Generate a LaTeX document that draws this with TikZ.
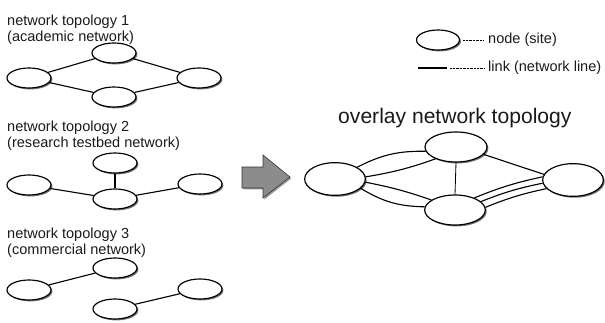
\documentclass[tikz,border=0pt]{standalone}
\usepackage{fontspec}
\setmainfont{Liberation Sans}
\usetikzlibrary{shapes.geometric,shadows}
\definecolor{txt}{HTML}{1A1A1A}
\definecolor{arrowfill}{HTML}{8C8C8C}
\tikzset{
  site/.style={ellipse, draw=black, line width=1pt, fill=white, inner sep=0pt,
    minimum width=1.32cm, minimum height=0.6cm,
    drop shadow={shadow xshift=1.2pt, shadow yshift=-1.2pt, opacity=0.55, fill=black}},
  bigsite/.style={site, minimum width=1.82cm, minimum height=0.98cm},
  link/.style={line width=0.95pt, black},
  thicklink/.style={line width=1.3pt, black},
  thinlink/.style={line width=0.7pt, black},
  dotlink/.style={line width=0.4pt, black, dash pattern=on 0.6pt off 0.6pt},
  lbl/.style={font=\fontsize{12.4}{13.3}\selectfont, text=txt, inner sep=0pt, align=left}
}
\begin{document}
\begin{tikzpicture}[x=0.03cm,y=0.03cm]
\useasboundingbox (0,0) rectangle (605,322);
% topology 1
\node[lbl, anchor=north west] (t1) at (7,307) {network topology 1\\(academic network)};
\node[site] (a1) at (29,244) {};
\node[site] (b1) at (114,269) {};
\node[site] (c1) at (199,244) {};
\node[site] (d1) at (114,225) {};
\draw[link] (a1) -- (b1);
\draw[link] (a1) -- (d1);
\draw[link] (b1) -- (c1);
\draw[link] (d1) -- (c1);
% topology 2
\node[lbl, anchor=north west] (t2) at (7,201) {network topology 2\\(research testbed network)};
\node[site] (a2) at (29,137) {};
\node[site] (b2) at (115,159) {};
\node[site] (c2) at (200,138) {};
\node[site] (d2) at (115,123) {};
\draw[link] (a2) -- (d2);
\draw[thicklink] (b2) -- (d2);
\draw[link] (d2) -- (c2);
% topology 3
\node[lbl, anchor=north west] (t3) at (7,94) {network topology 3\\(commercial network)};
\node[site] (a3) at (29,32) {};
\node[site] (b3) at (115,54) {};
\node[site] (c3) at (200,33) {};
\node[site] (d3) at (115,13) {};
\draw[link] (a3) -- (b3);
\draw[link] (d3) -- (c3);
% arrow
\filldraw[fill=arrowfill, draw=black!80, line width=0.5pt,
  drop shadow={shadow xshift=1.2pt, shadow yshift=-1.2pt, opacity=0.4, fill=black}]
  (242,155) -- (263,155) -- (263,167) -- (290,145) -- (263,124) -- (263,134) -- (242,134) -- cycle;
% overlay
\node[font=\fontsize{18}{20}\selectfont, text=txt, inner sep=0pt, anchor=base west] (ot) at (338,199) {overlay network topology};
\node[bigsite] (L) at (335,143) {};
\node[bigsite, minimum width=1.86cm, minimum height=0.9cm] (T) at (456,175) {};
\node[bigsite] (R) at (573,142) {};
\node[bigsite, minimum height=0.9cm] (B) at (455,112) {};
\draw[link] (L.28) to[bend left=14] (T.188);
\draw[link] (L.4) to[bend right=5] (T.210);
\draw[link] (L.-6) to[bend left=4] (B.157);
\draw[link] (L.-20) to[bend right=15] (B.174);
\draw[thinlink] (T.270) -- (B.90);
\draw[link] (T.-15) -- (R.169);
\draw[link] (B.32) to[bend left=5] (R.174);
\draw[link] (B.18) to[bend left=5] (R.186);
\draw[link] (B.5) to[bend left=5] (R.198);
% legend
\node[site, minimum width=1.29cm] (ln) at (438,282) {};
\node[lbl, anchor=west] (lnt) at (488,282) {node (site)};
\coordinate (lna) at (463,282);
\coordinate (lnb) at (484,282);
\draw[dotlink] (lna) -- (lnb);
\coordinate (lla) at (418,254);
\coordinate (llb) at (447,254);
\coordinate (llc) at (450,254);
\coordinate (lld) at (484,254);
\node[lbl, anchor=west] (llt) at (488,254) {link (network line)};
\draw[link] (lla) -- (llb);
\draw[dotlink] (llc) -- (lld);
\end{tikzpicture}
\end{document}
